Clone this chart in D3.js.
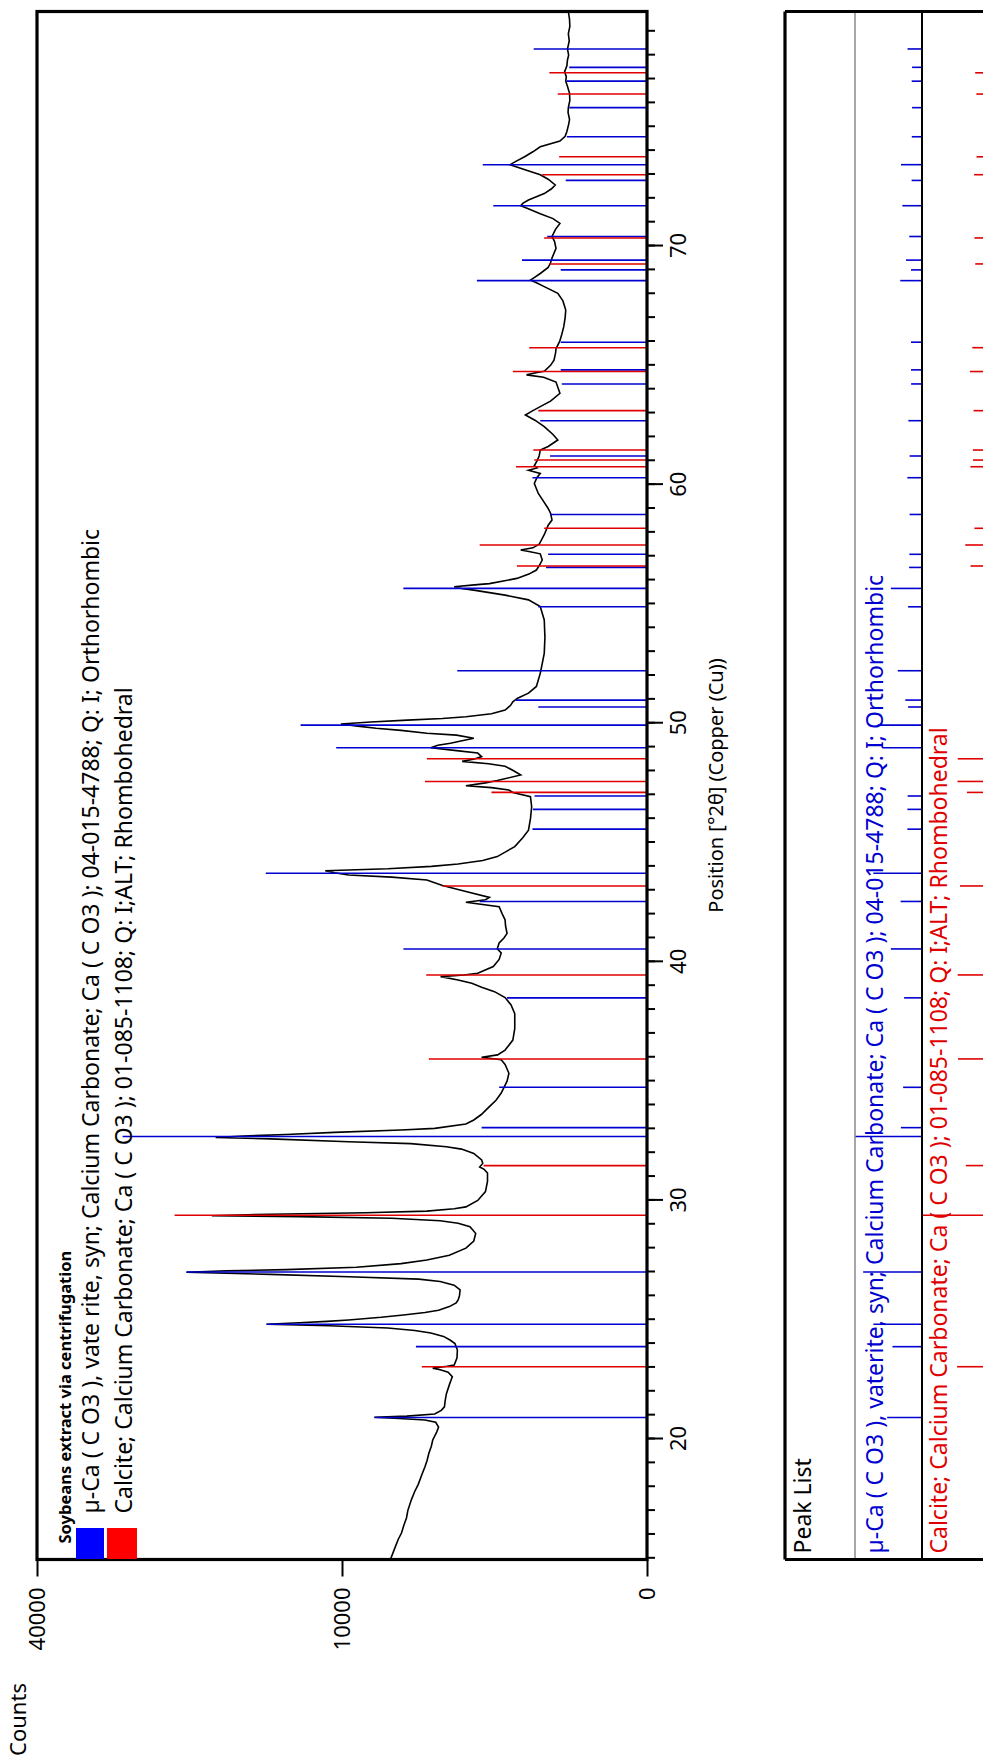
<!DOCTYPE html>
<html><head><meta charset="utf-8">
<script src="https://cdn.jsdelivr.net/npm/d3@7"></script>
<style>body{margin:0;background:#fff}svg{display:block}</style>
</head><body>
<svg id="c" width="983" height="1760"></svg>
<script>
// ---------- DATA ----------
const spectrumPos = [15.0,15.3,15.5,15.8,16.06,16.4,16.7,17.0,17.44,17.8,18.1,18.5,18.84,19.1,19.4,19.7,19.96,20.3,20.5,20.7,20.8,20.86,20.91,20.96,21.05,21.2,21.35,21.6,21.9,22.3,22.61,22.8,22.9,22.97,23.05,23.1,23.4,23.73,24.0,24.14,24.3,24.44,24.55,24.65,24.75,24.81,24.87,24.93,24.99,25.1,25.2,25.3,25.4,25.55,25.7,25.83,26.0,26.25,26.45,26.6,26.7,26.8,26.9,26.99,27.05,27.1,27.2,27.35,27.5,27.7,28.0,28.3,28.62,28.9,29.04,29.15,29.25,29.32,29.36,29.42,29.48,29.55,29.65,29.73,30.0,30.37,30.8,31.15,31.3,31.4,31.55,31.7,31.97,32.15,32.25,32.38,32.46,32.58,32.64,32.7,32.76,32.85,32.95,33.02,33.2,33.37,33.6,33.93,34.2,34.5,35.0,35.33,35.7,35.9,36.0,36.1,36.3,36.72,37.2,37.83,38.2,38.5,38.75,38.93,39.1,39.24,39.38,39.45,39.52,39.8,40.1,40.37,40.55,40.79,41.0,41.19,41.5,41.76,42.0,42.31,42.5,42.6,42.7,42.95,43.2,43.43,43.55,43.64,43.73,43.82,43.9,44.0,44.1,44.25,44.41,44.83,45.2,45.52,46.0,46.5,46.92,47.1,47.2,47.3,47.38,47.5,47.6,47.83,48.0,48.2,48.3,48.4,48.5,48.6,48.75,48.85,48.97,49.08,49.16,49.37,49.5,49.58,49.7,49.79,49.88,49.97,50.05,50.13,50.2,50.27,50.4,50.55,50.75,50.9,51.05,51.26,51.54,52.09,52.5,52.93,53.6,54.33,54.89,55.17,55.37,55.58,55.65,55.72,55.8,55.85,56.07,56.25,56.42,56.6,56.84,57.1,57.2,57.26,57.35,57.5,57.9,58.3,58.52,58.8,59.0,59.3,59.63,60.05,60.3,60.47,60.6,60.7,60.8,61.0,61.2,61.45,61.6,61.87,62.1,62.43,62.7,62.92,63.1,63.27,63.5,63.83,64.05,64.3,64.5,64.6,64.7,64.75,65.0,65.22,65.5,65.7,66.0,66.3,66.62,67.0,67.32,67.7,68.02,68.3,68.45,68.57,68.7,68.85,69.1,69.3,69.5,69.9,70.2,70.4,70.7,70.95,71.15,71.35,71.55,71.69,71.8,71.93,72.2,72.4,72.56,72.8,72.99,73.2,73.41,73.55,73.74,73.95,74.16,74.4,74.6,74.8,75.1,75.3,75.6,75.8,76.1,76.4,76.7,76.91,77.1,77.3,77.55,77.8,78.0,78.26,78.6,78.9,79.2,79.5,79.83];
const spectrumCounts = [7050,6900,6800,6650,6480,6350,6215,6150,5975,5800,5625,5450,5300,5200,5115,5000,4935,4750,4670,4800,5300,6600,7985,6200,4845,4550,4410,4380,4325,4190,4075,4250,4600,4935,4300,3995,3880,3865,3965,4155,4450,5025,5800,7225,10860,15560,13000,11000,9570,7600,6380,5300,4670,4200,3915,3835,3780,3755,4000,4600,5600,9570,15245,22800,19000,14000,9075,6500,5210,4200,3525,3225,3155,3370,3835,4600,7000,13000,20360,15245,8500,5210,4000,3525,3080,2805,2735,2735,2850,3010,2900,2940,3225,3700,4325,6000,9570,15245,20000,17500,14000,10500,6500,4845,3525,3225,2950,2670,2450,2285,2105,2050,2165,2285,2940,2400,2165,1935,1880,1880,1990,2165,2500,2940,3300,3835,4580,3600,3080,2540,2350,2285,2410,2350,2200,2105,2150,2165,2250,2350,3525,2800,2670,3525,4495,5210,7000,9570,10500,11130,7225,5000,3835,2900,2410,1880,1660,1510,1460,1430,1460,1935,2050,2600,3525,2805,2410,1715,1900,2165,2700,3675,3200,2940,3080,3900,5025,4700,4155,3225,3900,5210,6500,7890,9000,10075,8200,6175,4500,3525,2600,2165,2000,1935,1800,1510,1315,1225,1180,1135,1120,1135,1225,1510,2165,3225,3700,3995,3200,2670,1820,1500,1315,1250,1180,1225,1500,1715,1400,1250,1135,1050,970,1000,1050,1150,1270,1365,1300,1225,1510,1300,1365,1300,1250,1225,1050,855,950,1135,1350,1590,1400,1225,1000,815,850,890,1150,1560,1300,1135,1000,930,900,890,820,780,745,720,710,760,855,1135,1300,1460,1350,1225,1050,1000,970,890,920,970,900,815,950,1225,1500,1715,1650,1510,1135,980,905,1050,1225,1600,2015,1850,1610,1400,1225,815,720,690,660,645,670,665,640,645,680,710,700,730,690,680,660,680,650,665,640,645,665];

const vateritePos = [20.9,23.87,24.81,27.0,32.68,33.05,34.74,38.49,40.54,42.53,43.71,45.56,46.39,46.95,48.97,49.92,50.68,50.97,52.2,54.88,55.65,56.53,57.08,58.75,60.29,61.2,62.68,64.22,64.81,65.97,68.55,69.0,69.41,70.4,71.69,72.75,73.41,74.58,75.8,76.91,77.49,78.26];
const vateriteCounts = [7990,5740,15560,22800,29560,2940,2350,2105,6380,3010,15625,1410,1400,1360,10385,12900,1270,1845,3870,1270,6380,1095,1050,1010,1410,1010,1225,780,800,800,3110,800,1680,1070,2540,710,2900,690,650,700,650,1380];

const calcitePos = [23.03,29.38,31.46,35.93,39.45,43.18,47.1,47.56,48.51,56.59,57.47,58.17,60.75,61.03,61.45,63.1,64.74,65.74,69.25,70.34,72.99,73.74,76.37,77.26];
const calciteCounts = [5450,23990,2870,5115,5240,4500,2600,5300,5210,1820,3010,1137,1845,1365,1390,1270,1935,1490,1010,1137,1180,830,855,1025];

const countTicks = [0, 10000, 40000];
const positionMajorTicks = [20, 30, 40, 50, 60, 70];
const positionMinorTicks = d3.range(15, 80);

const legendTitle = "Soybeans extract via centrifugation";
const vateriteLegend = "\u00b5-Ca ( C O3 ), vate rite, syn; Calcium Carbonate; Ca ( C O3 ); 04-015-4788; Q: I; Orthorhombic";
const calciteLegend = "Calcite; Calcium Carbonate; Ca ( C O3 ); 01-085-1108; Q: I;ALT; Rhombohedral";
const peakListTitle = "Peak List";
const vateritePeakTitle = "\u00b5-Ca ( C O3 ), vaterite, syn; Calcium Carbonate; Ca ( C O3 ); 04-015-4788; Q: I; Orthorhombic";
const calcitePeakTitle = "Calcite; Calcium Carbonate; Ca ( C O3 ); 01-085-1108; Q: I;ALT; Rhombohedral";
const countsTitle = "Counts";
const positionTitle = "Position [\u00b02\u03b8] (Copper (Cu))";

// ---------- LAYOUT ----------
const FONT = "'Noto Sans', 'Open Sans', sans-serif";
const BLUE = "#0000d0", RED = "#e00000";
const W = 1548, H = 610;
const svg = d3.select("#c");
const x = d3.scaleLinear().domain([14.95, 79.83]).range([0, W]);
const y = d3.scaleSqrt().domain([0, 40000]).range([H, 0]);

const spectrum = spectrumPos.map((p, i) => ({p, c: spectrumCounts[i]}));
const vaterite = vateritePos.map((p, i) => ({p, c: vateriteCounts[i]}));
const calcite = calcitePos.map((p, i) => ({p, c: calciteCounts[i]}));

// main plot, drawn in unrotated frame then rotated -90deg
const g = svg.append("g").attr("transform", "translate(37,1559.5) rotate(-90)");

g.append("path").datum(spectrum)
  .attr("fill", "none").attr("stroke", "#000").attr("stroke-width", 1.6)
  .attr("d", d3.line().x(d => x(d.p)).y(d => y(d.c)));

g.append("g").selectAll("line").data(vaterite).join("line")
  .attr("x1", d => x(d.p)).attr("x2", d => x(d.p))
  .attr("y1", y(0)).attr("y2", d => y(d.c))
  .attr("stroke", BLUE).attr("stroke-width", 1.6);
g.append("g").selectAll("line").data(calcite).join("line")
  .attr("x1", d => x(d.p)).attr("x2", d => x(d.p))
  .attr("y1", y(0)).attr("y2", d => y(d.c))
  .attr("stroke", RED).attr("stroke-width", 1.6);

// frame
g.append("rect").attr("x", 0).attr("y", 0).attr("width", W).attr("height", H)
  .attr("fill", "none").attr("stroke", "#000").attr("stroke-width", 3.2);

// position axis (bottom in unrotated frame)
const axMinor = g.append("g").attr("transform", `translate(0,${H})`)
  .call(d3.axisBottom(x).tickValues(positionMinorTicks).tickSize(8).tickFormat(""));
const axMajor = g.append("g").attr("transform", `translate(0,${H})`)
  .call(d3.axisBottom(x).tickValues(positionMajorTicks).tickSize(16).tickPadding(7).tickFormat(d3.format("d")));
// counts axis (left in unrotated frame)
const axCounts = g.append("g")
  .call(d3.axisLeft(y).tickValues(countTicks).tickSize(17).tickPadding(11).tickFormat(d3.format("d")));
[axMinor, axMajor, axCounts].forEach(a => {
  a.select(".domain").remove();
  a.selectAll(".tick line").attr("stroke", "#000").attr("stroke-width", 2);
  a.selectAll("text").attr("font-family", FONT).attr("font-size", 22).attr("fill", "#000");
});

// axis titles
g.append("text").attr("x", -160).attr("y", -19).attr("dy", "0.35em")
  .attr("text-anchor", "middle").attr("font-family", FONT).attr("font-size", 22).text(countsTitle);
g.append("text").attr("x", W / 2).attr("y", H + 69).attr("dy", "0.35em")
  .attr("text-anchor", "middle").attr("font-family", FONT).attr("font-size", 20).text(positionTitle);

// legend
g.append("text").attr("x", 16).attr("y", 28).attr("dy", "0.35em")
  .attr("font-family", FONT).attr("font-size", 16.5).attr("font-weight", "bold").text(legendTitle);
g.append("rect").attr("x", 0.5).attr("y", 39).attr("width", 31).attr("height", 28).attr("fill", "#0000ff");
g.append("rect").attr("x", 0.5).attr("y", 70).attr("width", 31).attr("height", 30).attr("fill", "#ff0000");
g.append("text").attr("x", 46).attr("y", 54).attr("dy", "0.35em")
  .attr("font-family", FONT).attr("font-size", 23).attr("fill", "#000").text(vateriteLegend);
g.append("text").attr("x", 46).attr("y", 87).attr("dy", "0.35em")
  .attr("font-family", FONT).attr("font-size", 23).attr("fill", "#000").text(calciteLegend);

// ---------- PEAK LIST PANEL ----------
const pl = svg.append("g").attr("transform", "translate(785,1559.5) rotate(-90)");
const ROW1 = 70, ROW2 = 137, ROW3 = 204, LEN = 67;
const lenV = d3.scaleSqrt().domain([0, d3.max(vateriteCounts)]).range([0, LEN]);
const lenC = d3.scaleSqrt().domain([0, d3.max(calciteCounts)]).range([0, LEN]);

pl.append("g").selectAll("line").data(vaterite).join("line")
  .attr("x1", d => x(d.p)).attr("x2", d => x(d.p))
  .attr("y1", ROW2).attr("y2", d => ROW2 - lenV(d.c))
  .attr("stroke", BLUE).attr("stroke-width", 1.6);
pl.append("g").selectAll("line").data(calcite).join("line")
  .attr("x1", d => x(d.p)).attr("x2", d => x(d.p))
  .attr("y1", ROW3).attr("y2", d => ROW3 - lenC(d.c))
  .attr("stroke", RED).attr("stroke-width", 1.6);

pl.append("line").attr("x1", 0).attr("x2", W).attr("y1", ROW1).attr("y2", ROW1)
  .attr("stroke", "#8a8a8a").attr("stroke-width", 1.5);
pl.append("line").attr("x1", 0).attr("x2", W).attr("y1", ROW2).attr("y2", ROW2)
  .attr("stroke", "#000").attr("stroke-width", 2);
pl.append("line").attr("x1", 0).attr("x2", 0).attr("y1", 0).attr("y2", 260)
  .attr("stroke", "#000").attr("stroke-width", 3.2);
pl.append("line").attr("x1", W).attr("x2", W).attr("y1", 0).attr("y2", 260)
  .attr("stroke", "#000").attr("stroke-width", 3.2);
pl.append("line").attr("x1", 0).attr("x2", W).attr("y1", 0).attr("y2", 0)
  .attr("stroke", "#000").attr("stroke-width", 3.2);

pl.append("text").attr("x", 6).attr("y", 18).attr("dy", "0.35em")
  .attr("font-family", FONT).attr("font-size", 23).attr("fill", "#000").text(peakListTitle);
pl.append("text").attr("x", 6).attr("y", 90).attr("dy", "0.35em")
  .attr("font-family", FONT).attr("font-size", 23).attr("fill", BLUE).text(vateritePeakTitle);
pl.append("text").attr("x", 6).attr("y", 154).attr("dy", "0.35em")
  .attr("font-family", FONT).attr("font-size", 23).attr("fill", RED).text(calcitePeakTitle);
</script>
</body></html>
